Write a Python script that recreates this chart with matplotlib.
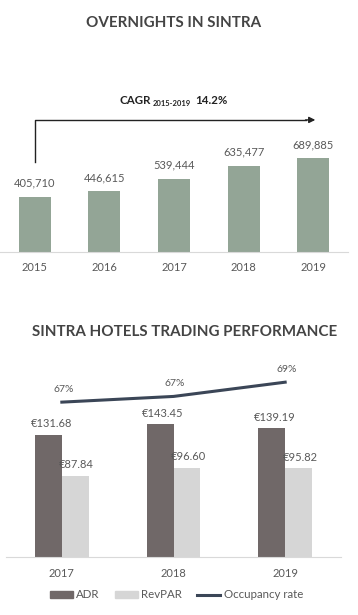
import matplotlib.pyplot as plt
from matplotlib.patches import Patch
from matplotlib.lines import Line2D

plt.rcParams['font.family'] = ['Lato', 'DejaVu Sans']

# Overnights data
years_top = ['2015', '2016', '2017', '2018', '2019']
overnights = [405710, 446615, 539444, 635477, 689885]

# Hotel trading data
years_bot = ['2017', '2018', '2019']
adr = [131.68, 143.45, 139.19]
revpar = [87.84, 96.60, 95.82]
occupancy = [66.7, 67.3, 68.8]

W, H = 358, 615
fig = plt.figure(figsize=(W / 100, H / 100), dpi=100)

def box(left, top, right, bottom):
    return [left / W, 1 - bottom / H, (right - left) / W, (bottom - top) / H]

txt = '#595959'
green = '#93a596'
dark = '#706868'
light = '#d6d6d6'
navy = '#3b4657'

# ---- top chart ----
fig.text(174 / W, 1 - 23 / H, 'OVERNIGHTS IN SINTRA', ha='center', va='center',
         fontsize=10.9, fontweight='bold', color='#444444')

ax1 = fig.add_axes(box(0, 116.4, 348, 252))
x = range(len(years_top))
ax1.bar(x, overnights, width=0.46, color=green)
for i, v in enumerate(overnights):
    ax1.annotate(f'{v:,}', (i, v), xytext=(0, 10), textcoords='offset points',
                 ha='center', va='center', fontsize=8, color=txt)
ax1.set_xlim(-0.5, 4.5)
ax1.set_ylim(0, 1.0e6)
ax1.set_xticks(list(x))
ax1.set_xticklabels(years_top, fontsize=8, color=txt)
ax1.tick_params(axis='x', length=0, pad=7)
ax1.set_yticks([])
for s in ['top', 'left', 'right']:
    ax1.spines[s].set_visible(False)
ax1.spines['bottom'].set_color('#d9d9d9')

# CAGR arrow
ax1.plot([0, 0, 3.9], [664000, 974000, 974000], color='#222222', lw=1, clip_on=False)
ax1.annotate('', xy=(4.07, 974000), xytext=(3.85, 974000),
             arrowprops=dict(arrowstyle='-|>', color='#222222', lw=1,
                             mutation_scale=9), annotation_clip=False)
fig.text(151 / W, 1 - 100 / H, 'CAGR', ha='right', va='center', fontsize=8.3,
         fontweight='bold', color='#222222')
fig.text(153 / W, 1 - 104 / H, '2015-2019', ha='left', va='center', fontsize=5.5,
         fontweight='bold', color='#222222')
fig.text(195 / W, 1 - 100 / H, '14.2%', ha='left', va='center', fontsize=8.3,
         fontweight='bold', color='#222222')

# ---- bottom chart ----
fig.text(185 / W, 1 - 332 / H, 'SINTRA HOTELS TRADING PERFORMANCE', ha='center',
         va='center', fontsize=10.9, fontweight='bold', color='#444444')

ax2 = fig.add_axes(box(6, 353.3, 341, 557))
xb = range(len(years_bot))
bw = 0.24
ax2.bar([i - bw / 2 for i in xb], adr, width=bw, color=dark, label='ADR')
ax2.bar([i + bw / 2 for i in xb], revpar, width=bw, color=light, label='RevPAR')
for i in xb:
    ax2.annotate(f'€{adr[i]:.2f}', (i - bw / 2, adr[i]), xytext=(2, 8),
                 textcoords='offset points', ha='center', va='center',
                 fontsize=8, color=txt)
    ax2.annotate(f'€{revpar[i]:.2f}', (i + bw / 2, revpar[i]), xytext=(1, 8),
                 textcoords='offset points', ha='center', va='center',
                 fontsize=8, color=txt)
ax2.set_xlim(-0.5, 2.5)
ax2.set_ylim(0, 220)
ax2.set_xticks(list(xb))
ax2.set_xticklabels(years_bot, fontsize=8, color=txt)
ax2.tick_params(axis='x', length=0, pad=8)
ax2.set_yticks([])
for s in ['top', 'left', 'right']:
    ax2.spines[s].set_visible(False)
ax2.spines['bottom'].set_color('#d9d9d9')

ax3 = ax2.twinx()
ax3.plot(list(xb), occupancy, color=navy, lw=2.2, clip_on=False)
for i, v in enumerate(occupancy):
    ax3.annotate(f'{v:.0f}%', (i, v), xytext=(1, 9), textcoords='offset points',
                 ha='center', va='center', fontsize=7.5, color=txt)
ax3.set_ylim(50.4, 71.84)
ax3.set_yticks([])
for s in ax3.spines.values():
    s.set_visible(False)

handles = [Patch(color=dark), Patch(color=light), Line2D([0], [0], color=navy, lw=2.2)]
fig.legend(handles, ['ADR', 'RevPAR', 'Occupancy rate'], loc='center',
           bbox_to_anchor=(176.5 / W, 1 - 595 / H), ncol=3, frameon=False,
           fontsize=8.3, labelcolor=txt, handlelength=2, handletextpad=0.3,
           columnspacing=1.3, handleheight=0.6)

fig.savefig('out.png', dpi=100)
